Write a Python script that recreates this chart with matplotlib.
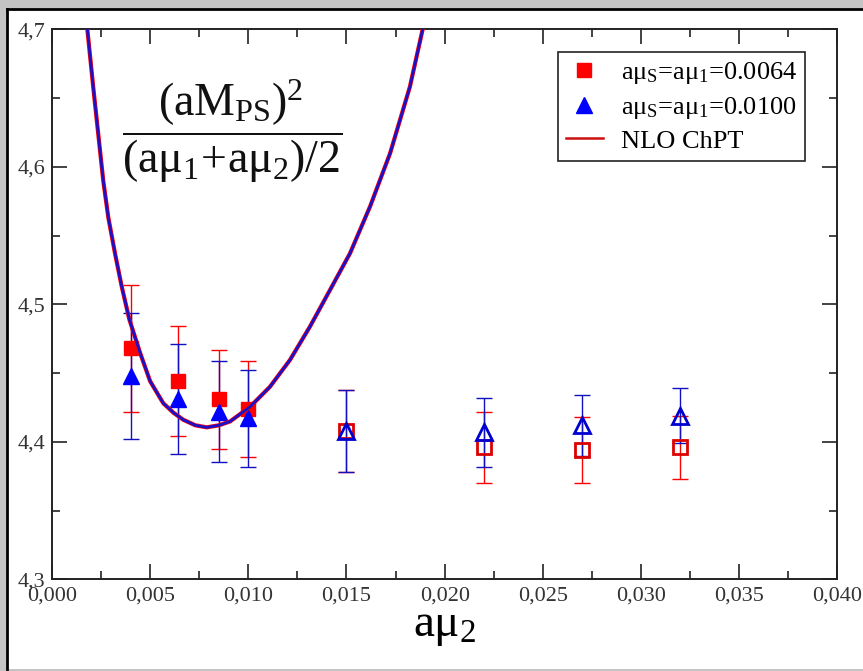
import matplotlib
matplotlib.use("Agg")
import matplotlib.pyplot as plt
from matplotlib.lines import Line2D
from matplotlib.patches import Rectangle
from matplotlib.ticker import MultipleLocator, FuncFormatter

plt.rcParams['font.family'] = ['Liberation Serif', 'DejaVu Serif']
plt.rcParams['mathtext.fontset'] = 'custom'
plt.rcParams['mathtext.rm'] = 'Liberation Serif'
plt.rcParams['mathtext.it'] = 'Liberation Serif'
plt.rcParams['mathtext.bf'] = 'Liberation Serif:bold'

# data
amu2 = [0.0040, 0.0064, 0.0085, 0.0100, 0.0150, 0.0220, 0.0270, 0.0320]
ratio_0064 = [4.468, 4.444, 4.431, 4.424, 4.408, 4.396, 4.394, 4.396]
err_0064 = [0.046, 0.040, 0.036, 0.035, 0.030, 0.026, 0.024, 0.023]
ratio_0100 = [4.448, 4.431, 4.422, 4.417, 4.408, 4.407, 4.412, 4.419]
err_0100 = [0.046, 0.040, 0.037, 0.035, 0.030, 0.025, 0.022, 0.020]
n_filled = 4  # points below 0.015 are filled, the rest open

# NLO ChPT fit curves
fit_x = [0.00180, 0.00210, 0.00228, 0.00261, 0.00287, 0.00321, 0.00355, 0.00394,
         0.00448, 0.00500, 0.00567, 0.00620, 0.00669, 0.00730, 0.00788, 0.00850,
         0.00907, 0.01009, 0.01110, 0.01212, 0.01314, 0.01416, 0.01518, 0.01620,
         0.01722, 0.01823, 0.01888]
fit_0064 = [4.700, 4.658, 4.634, 4.590, 4.563, 4.537, 4.513, 4.489,
            4.465, 4.444, 4.428, 4.421, 4.416, 4.412, 4.4105, 4.412,
            4.4148, 4.4255, 4.440, 4.4595, 4.4838, 4.5104, 4.5371, 4.5711,
            4.6098, 4.6582, 4.700]
fit_0100 = [4.700, 4.658, 4.634, 4.590, 4.563, 4.537, 4.513, 4.489,
            4.465, 4.444, 4.428, 4.421, 4.416, 4.412, 4.4105, 4.412,
            4.4148, 4.4255, 4.440, 4.4595, 4.4838, 4.5104, 4.5371, 4.5711,
            4.6098, 4.6582, 4.700]

RED = '#ff0000'
BLUE = '#0000ff'

W, H = 863, 671
fig = plt.figure(figsize=(W / 100, H / 100), dpi=100)
fig.patch.set_facecolor('#c4c4c4')
# white panel with black frame on top and left
fig.patches.append(Rectangle((7 / W, 2 / H), 1, 1 - 11 / H, transform=fig.transFigure,
                             facecolor='white', edgecolor='none', zorder=-2))
fig.lines.append(Line2D([7 / W, 1], [1 - 9 / H, 1 - 9 / H], transform=fig.transFigure,
                        color='black', lw=2))
fig.lines.append(Line2D([7 / W, 7 / W], [2 / H, 1 - 9 / H], transform=fig.transFigure,
                        color='black', lw=2))

ax = fig.add_axes([52 / W, 1 - 579.3 / H, (837.3 - 52) / W, (579.3 - 29.3) / H])
ax.set_facecolor('white')

# fit curves
ax.plot(fit_x, fit_0064, color=RED, lw=3.0, zorder=3, solid_joinstyle='round')
ax.plot(fit_x, fit_0100, color='#1a10c8', lw=2.0, zorder=3.1, solid_joinstyle='round')

# error bars
ax.errorbar(amu2, ratio_0064, yerr=err_0064, fmt='none', ecolor=RED, elinewidth=1.0,
            capsize=6, capthick=1.0, zorder=2)
ax.errorbar(amu2, ratio_0100, yerr=err_0100, fmt='none', ecolor='#1010c0', elinewidth=1.0,
            capsize=6, capthick=1.0, zorder=2.2)

# markers
ax.plot(amu2[:n_filled], ratio_0064[:n_filled], 's', color=RED, ms=10, mec=RED, zorder=2.5)
ax.plot(amu2[n_filled:], ratio_0064[n_filled:], 's', mfc='none', mec='#dd0000', mew=2.0,
        ms=10, zorder=2.5)
ax.plot(amu2[:n_filled], ratio_0100[:n_filled], '^', color=BLUE, ms=12, mec=BLUE, zorder=2.6)
ax.plot(amu2[n_filled:], ratio_0100[n_filled:], '^', mfc='none', mec='#0000d0', mew=2.0,
        ms=12, zorder=2.6)

ax.set_xlim(0, 0.040)
ax.set_ylim(4.3, 4.7)
ax.xaxis.set_major_locator(MultipleLocator(0.005))
ax.xaxis.set_minor_locator(MultipleLocator(0.0025))
ax.yaxis.set_major_locator(MultipleLocator(0.1))
ax.yaxis.set_minor_locator(MultipleLocator(0.05))
ax.xaxis.set_major_formatter(FuncFormatter(lambda v, p: f'{v:.3f}'.replace('.', ',')))
ax.yaxis.set_major_formatter(FuncFormatter(lambda v, p: f'{v:.1f}'.replace('.', ',')))
ax.tick_params(which='both', direction='in', top=True, right=True, color='#222222',
               labelsize=16, labelcolor='#333333')
ax.tick_params(which='major', length=11, width=1.2)
ax.tick_params(which='minor', length=6, width=1.2)
ax.tick_params(axis='x', pad=5)
ax.tick_params(axis='y', pad=5)
for s in ax.spines.values():
    s.set_linewidth(1.4)
    s.set_color('#222222')

ax.set_xlabel(r'a$\mu_2$', fontsize=34, labelpad=0)

# quantity shown as a fraction
ax.text(0.2295, 0.815, r'$\dfrac{(aM_{PS})^2}{(a\mu_1\!+\!a\mu_2)/2}$', transform=ax.transAxes,
        fontsize=33, ha='center', va='center', color='#111111')

handles = [
    Line2D([], [], ls='none', marker='s', color=RED, ms=10),
    Line2D([], [], ls='none', marker='^', color=BLUE, ms=12),
    Line2D([], [], color='#cc1010', lw=1.8),
]
labels = [r'a$\mu_S$=a$\mu_1$=0.0064', r'a$\mu_S$=a$\mu_1$=0.0100', 'NLO ChPT']
leg = ax.legend(handles, labels, loc='upper right', bbox_to_anchor=(0.9595, 0.958),
                fontsize=19, frameon=True, fancybox=False, framealpha=1,
                edgecolor='#222222', handlelength=1.4, handletextpad=0.7,
                labelspacing=0.32, borderpad=0.3, borderaxespad=0)
leg.get_frame().set_linewidth(1.2)

fig.savefig('out.png', dpi=100, facecolor=fig.get_facecolor())
